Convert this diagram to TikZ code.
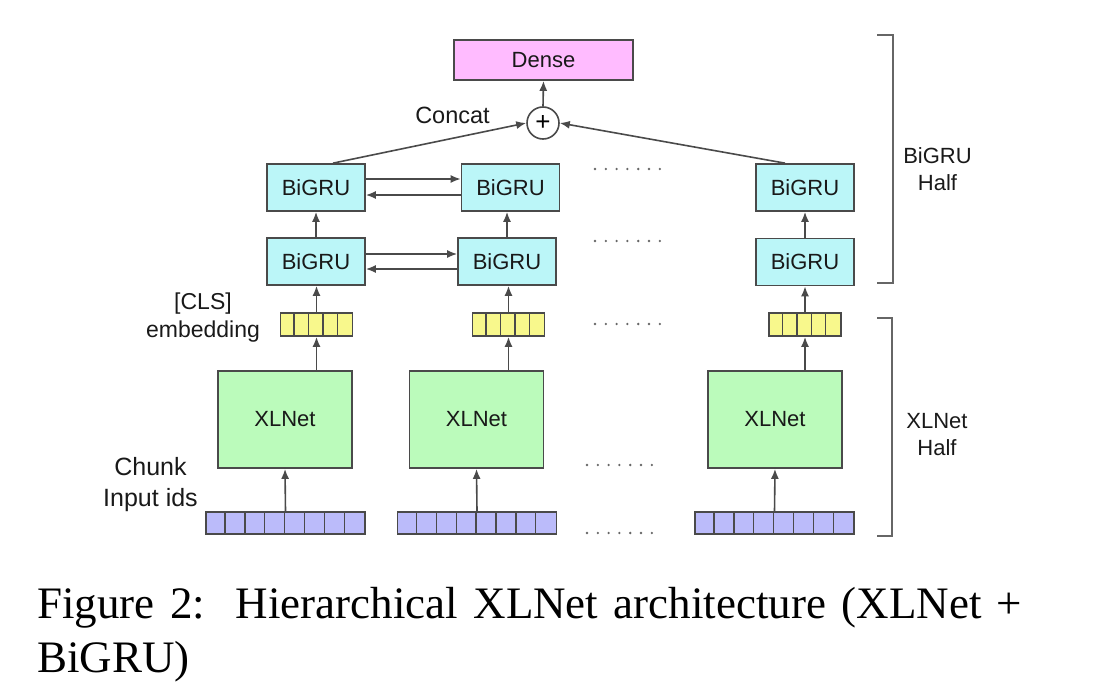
\documentclass[tikz,border=0pt]{standalone}
\usepackage{fontspec}
\setmainfont{Liberation Serif}
\setsansfont{Liberation Sans}
\usetikzlibrary{arrows.meta,calc}
\definecolor{densec}{HTML}{FFBBFF}
\definecolor{gruc}{HTML}{BBF6F8}
\definecolor{xlc}{HTML}{BBFBBB}
\definecolor{clsc}{HTML}{F8F88C}
\definecolor{idc}{HTML}{BBBBFA}
\definecolor{edge}{HTML}{4A4A4A}
\tikzset{
  box/.style={draw=edge, line width=1.7pt, inner sep=0pt, text=black!90, font=\sffamily\fontsize{22}{26}\selectfont},
  gru/.style={box, fill=gruc, minimum width=98pt, minimum height=47pt},
  xl/.style={box, fill=xlc, minimum width=134pt, minimum height=97pt},
  cls/.style={box, fill=clsc, minimum width=72pt, minimum height=23pt},
  ids/.style={box, fill=idc, minimum width=159pt, minimum height=22pt},
  lbl/.style={font=\sffamily\fontsize{22}{27}\selectfont, align=center, inner sep=0pt, text=black!90},
  arr/.style={draw=edge, line width=1.6pt, -{Latex[length=10pt,width=8pt]}},
  brk/.style={draw=black!60, line width=1.6pt},
}
\begin{document}
\begin{tikzpicture}[x=1pt,y=-1pt]
\useasboundingbox (0,0) rectangle (1100,698);
% top
\node[box, fill=densec, minimum width=179pt, minimum height=40pt] (dense) at (543.5,60) {Dense};
\node[draw=edge, line width=1.6pt, circle, minimum size=32pt, inner sep=0pt, fill=white, font=\sffamily\fontsize{26}{26}\selectfont] (plus) at (543,123) {+};
\node[lbl, font=\sffamily\fontsize{23.5}{27}\selectfont] (concat) at (452.5,115) {Concat};
% BiGRU rows
\node[gru] (u1) at (316,187.5) {BiGRU};
\node[gru] (u2) at (510.5,187.5) {BiGRU};
\node[gru] (u3) at (805,187.5) {BiGRU};
\node[gru] (l1) at (316,261.5) {BiGRU};
\node[gru] (l2) at (507,261.5) {BiGRU};
\node[gru] (l3) at (805,262) {BiGRU};
% CLS
\foreach \n/\x in {c1/316.5, c2/508.5, c3/805}{
  \node[cls] (\n) at (\x,324.5) {};
  \foreach \k in {1,...,4}{
    \draw[edge, line width=1.4pt] ($(\n.south west)+(\k*14.4,0)$) -- ($(\n.north west)+(\k*14.4,0)$);
  }
}
% XLNet
\node[xl] (x1) at (285,419.5) {XLNet};
\node[xl] (x2) at (476.5,419.5) {XLNet};
\node[xl] (x3) at (775,419.5) {XLNet};
% inputs
\foreach \n/\x in {i1/285.5, i2/477, i3/774.5}{
  \node[ids] (\n) at (\x,523) {};
  \foreach \k in {1,...,7}{
    \draw[edge, line width=1.4pt] ($(\n.south west)+(\k*19.875,0)$) -- ($(\n.north west)+(\k*19.875,0)$);
  }
}
% labels
\node[lbl, font=\sffamily\fontsize{23}{28}\selectfont] (clslbl) at (203,318) {[CLS]\\embedding};
\node[lbl, font=\sffamily\fontsize{25}{31}\selectfont] (chunk) at (150.5,485) {Chunk\\Input ids};
\node[lbl] (bghalf) at (937.5,169.5) {BiGRU\\Half};
\node[lbl] (xlhalf) at (937,435) {XLNet\\Half};
% vertical arrows
\foreach \k in {1,2,3}{
  \draw[arr] (i\k.north) -- (x\k.south);
  \draw[arr] (c\k.south |- x\k.north) -- (c\k.south);
  \draw[arr] (c\k.north) -- (c\k.north |- l\k.south);
}
\draw[arr] (l1.north) -- (u1.south);
\draw[arr] (l2.north) -- (l2.north |- u2.south);
\draw[arr] (l3.north) -- (u3.south);
% horizontal arrows
\draw[arr] ([yshift=7.5pt]l1.east) -- ([yshift=7.5pt]l1.east -| l2.west);
\draw[arr] ([yshift=-7.5pt]l2.west) -- ([yshift=-7.5pt]l2.west -| l1.east);
\draw[arr] ([yshift=8.5pt]u1.east) -- ([yshift=8.5pt]u1.east -| u2.west);
\draw[arr] ([yshift=-7.5pt]u2.west) -- ([yshift=-7.5pt]u2.west -| u1.east);
% to concat
\coordinate (u1t) at ($(u1.north)+(17,0)$);
\coordinate (u3t) at ($(u3.north)+(-20,0)$);
\draw[arr] (u1t) -- (plus.west);
\draw[arr] (u3t) -- (plus.east);
\draw[arr] (plus.north) -- (dense.south);
% dots
\foreach \y/\x in {169/595, 241/595, 324/595, 465/587, 533/587}{
  \foreach \j in {0,...,6}{
    \fill[black!60] (\x+\j*10.8,\y) circle (1.3pt);
  }
}
% brackets
\draw[brk] (877,35) -- (893,35) -- (893,283) -- (877,283);
\draw[brk] (877,318) -- (892,318) -- (892,536) -- (877,536);
% caption
\node[anchor=base west, inner sep=0pt, font=\rmfamily\fontsize{45}{54}\selectfont] (cap1) at (37,618) {\makebox[985pt][s]{Figure 2:\ \ Hierarchical XLNet architecture (XLNet +}};
\node[anchor=base west, inner sep=0pt, font=\rmfamily\fontsize{45}{54}\selectfont] (cap2) at (37,672) {BiGRU)};
\end{tikzpicture}
\end{document}
